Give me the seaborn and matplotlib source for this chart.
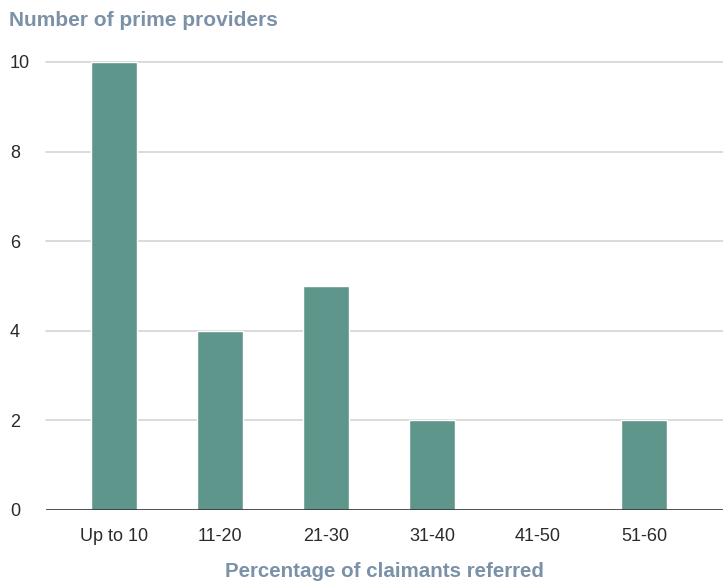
import matplotlib
matplotlib.use("Agg")
import matplotlib.pyplot as plt
import seaborn as sns
import pandas as pd

categories = ["Up to 10", "11-20", "21-30", "31-40", "41-50", "51-60"]
providers = [10, 4, 5, 2, 0, 2]
y_ticks = [0, 2, 4, 6, 8, 10]

bar_color = "#5f968b"
label_color = "#7b91a8"

sns.set_theme(style="white")
plt.rcParams["font.family"] = ["Liberation Sans", "DejaVu Sans"]

df = pd.DataFrame({"band": categories, "count": providers})

fig = plt.figure(figsize=(7.23, 5.82), dpi=100)
ax = fig.add_axes([46 / 723, 1 - 510 / 582, 1 - 46 / 723, (510 - 62) / 582])

sns.barplot(data=df, x="band", y="count", color=bar_color, width=0.434,
            saturation=1, ax=ax, zorder=3)

ax.set_xlim(-0.64, 5.745)
ax.set_ylim(0, 10)
ax.set_yticks(y_ticks)
ax.set_yticklabels([str(v) for v in y_ticks])
for v in y_ticks[1:]:
    ax.axhline(v, color="#d4d4d4", lw=1.2, zorder=1, clip_on=False)
ax.axhline(0, color="#333333", lw=1.2, zorder=4)

for s in ax.spines.values():
    s.set_visible(False)
ax.tick_params(axis="both", length=0, labelsize=13, colors="#2a2a2a")
ax.tick_params(axis="x", pad=13)
ax.tick_params(axis="y", pad=26)
for t in ax.get_yticklabels():
    t.set_horizontalalignment("left")

ax.set_ylabel("")
ax.set_xlabel("Percentage of claimants referred", fontsize=14.8, fontweight="bold",
              color=label_color, labelpad=12)
fig.text(9 / 723, 1 - 21 / 582, "Number of prime providers", fontsize=15,
         fontweight="bold", color=label_color, ha="left", va="center")

fig.savefig("out.png", dpi=100, facecolor="white")
